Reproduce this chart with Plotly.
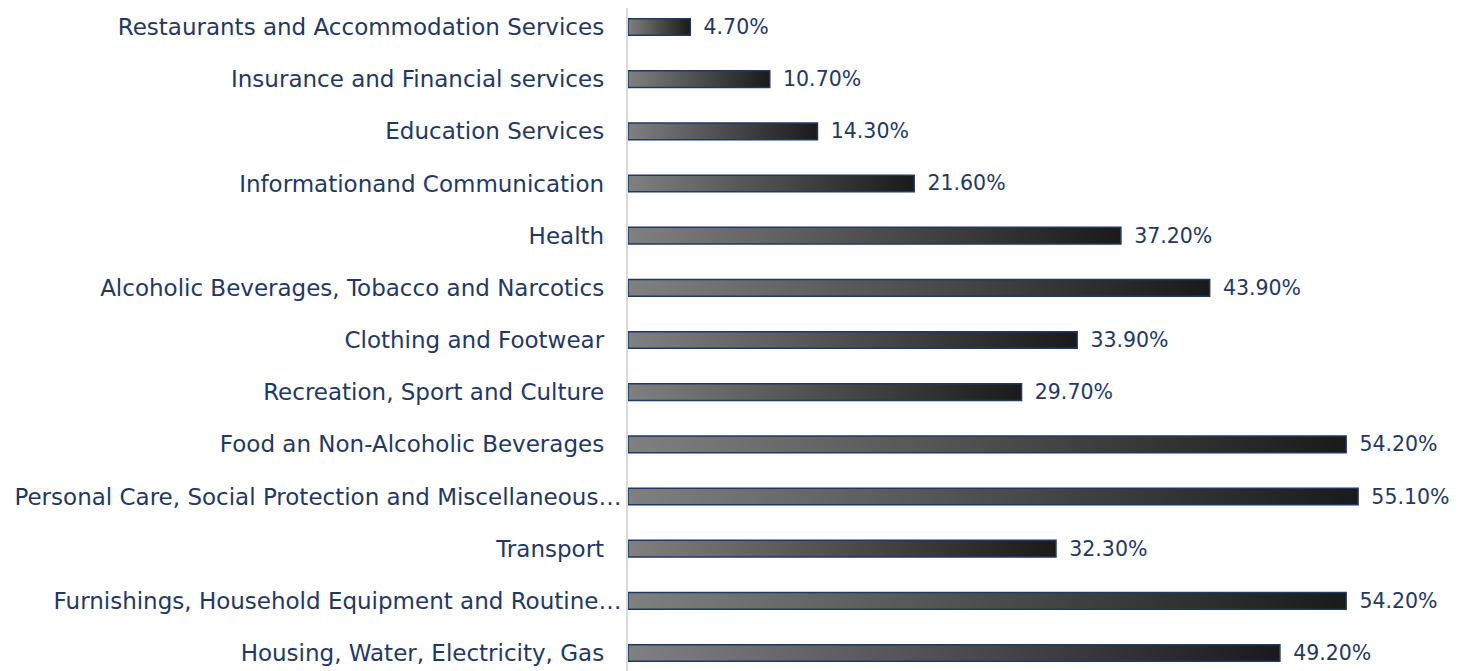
import base64
import plotly.graph_objects as go

# Data (bottom to top)
categories = [
    "Housing, Water, Electricity, Gas",
    "Furnishings, Household Equipment and Routine\u2026",
    "Transport",
    "Personal Care, Social Protection and Miscellaneous\u2026",
    "Food an Non-Alcoholic Beverages",
    "Recreation, Sport and Culture",
    "Clothing and Footwear",
    "Alcoholic Beverages, Tobacco and Narcotics",
    "Health",
    "Informationand Communication",
    "Education Services",
    "Insurance and Financial services",
    "Restaurants and Accommodation Services",
]
values = [49.2, 54.2, 32.3, 55.1, 54.2, 29.7, 33.9, 43.9, 37.2, 21.6, 14.3, 10.7, 4.7]
truncated = [False, True, False, True, False, False, False, False, False, False, False, False, False]

NAVY = "#1f3864"
FONT = "DejaVu Sans"
BAR_W = 0.32

positions = list(range(len(categories)))
ticktext = [c if t else c + "\u2002\u2005" for c, t in zip(categories, truncated)]

svg = (
    '<svg xmlns="http://www.w3.org/2000/svg" width="200" height="20" viewBox="0 0 200 20" '
    'preserveAspectRatio="none"><defs><linearGradient id="g" x1="0" y1="0" x2="1" y2="0">'
    '<stop offset="0" stop-color="#808080"/><stop offset="1" stop-color="#1a1a1a"/>'
    '</linearGradient></defs><rect width="200" height="20" fill="url(#g)"/></svg>'
)
src = "data:image/svg+xml;base64," + base64.b64encode(svg.encode()).decode()

fig = go.Figure()
fig.add_trace(go.Bar(
    x=values, y=positions, orientation="h", width=BAR_W,
    marker=dict(color="rgba(0,0,0,0)", line=dict(color=NAVY, width=1.5)),
    text=values, texttemplate="\u2002%{x:.2f}%", textposition="outside",
    textfont=dict(family=FONT, size=20.5, color=NAVY),
    cliponaxis=False, constraintext="none", hoverinfo="skip",
))

images = []
for p, v in zip(positions, values):
    images.append(dict(
        source=src, xref="x", yref="y", x=0, y=p + BAR_W / 2,
        sizex=v, sizey=BAR_W, xanchor="left", yanchor="top",
        sizing="stretch", layer="below",
    ))

fig.update_layout(
    width=1462, height=663,
    margin=dict(l=620, r=47, t=0, b=0),
    paper_bgcolor="white", plot_bgcolor="rgba(0,0,0,0)",
    showlegend=False,
    images=images,
    xaxis=dict(range=[0, 60], visible=False, showgrid=False, zeroline=False),
    yaxis=dict(
        range=[-0.345, 12.364], tickmode="array", tickvals=positions, ticktext=ticktext,
        showgrid=False, zeroline=False, showline=True, linecolor="#d9d9d9", linewidth=2,
        ticks="", tickfont=dict(family=FONT, size=23, color=NAVY),
    ),
)

fig.write_html("out.html")
